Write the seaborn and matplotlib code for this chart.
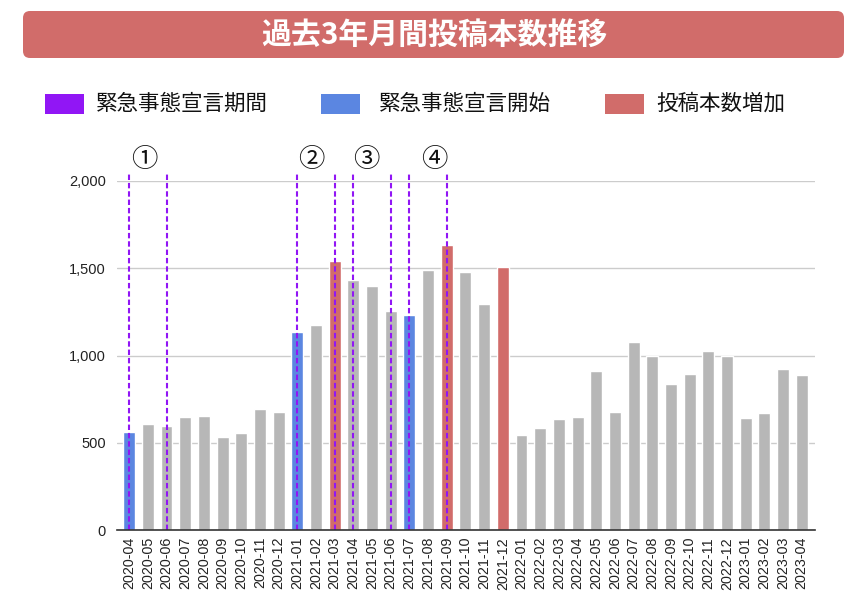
import numpy as np
import pandas as pd
import matplotlib.pyplot as plt
import seaborn as sns
from matplotlib.patches import FancyBboxPatch, Rectangle

# data
months = ['2020-04', '2020-05', '2020-06', '2020-07', '2020-08', '2020-09', '2020-10',
          '2020-11', '2020-12', '2021-01', '2021-02', '2021-03', '2021-04', '2021-05',
          '2021-06', '2021-07', '2021-08', '2021-09', '2021-10', '2021-11', '2021-12',
          '2022-01', '2022-02', '2022-03', '2022-04', '2022-05', '2022-06', '2022-07',
          '2022-08', '2022-09', '2022-10', '2022-11', '2022-12', '2023-01', '2023-02',
          '2023-03', '2023-04']
posts = [562, 606, 598, 650, 655, 533, 554, 692, 678, 1137, 1173, 1540, 1433, 1398,
         1253, 1230, 1492, 1635, 1477, 1297, 1505, 542, 585, 634, 650, 909, 678, 1075,
         995, 835, 892, 1024, 995, 640, 669, 921, 886]
start_months = ['2020-04', '2021-01', '2021-07']
increase_months = ['2021-03', '2021-09', '2021-12']
emergency_edges = ['2020-04', '2020-06', '2021-01', '2021-03',
                   '2021-04', '2021-06', '2021-07', '2021-09']
period_marks = ['①', '②', '③', '④']
mark_x = [0.8, 9.75, 12.7, 16.35]
legend_labels = ['緊急事態宣言期間', '緊急事態宣言開始', '投稿本数増加']
title = '過去3年月間投稿本数推移'

purple = '#9116f5'
blue = '#5b86e1'
red = '#d16c6a'
gray = '#b7b7b7'

kind = ['start' if m in start_months else 'up' if m in increase_months else 'normal'
        for m in months]
df = pd.DataFrame({'month': months, 'posts': posts, 'kind': kind})

sns.set_style('white')
plt.rcParams['font.family'] = ['Liberation Sans', 'Noto Sans CJK JP', 'DejaVu Sans']
jp = ['Noto Sans CJK JP', 'DejaVu Sans']

fig = plt.figure(figsize=(8.68, 6.12), dpi=100)
ax = fig.add_axes([117 / 868, 82 / 612, 698 / 868, 349 / 612])

sns.barplot(data=df, x='month', y='posts', hue='kind',
            hue_order=['normal', 'start', 'up'],
            palette={'normal': gray, 'start': blue, 'up': red},
            dodge=False, width=0.64, saturation=1, legend=False, ax=ax)

for m in emergency_edges:
    i = months.index(m)
    ax.plot([i, i], [0, 2052], color=purple, lw=1.5, ls=(0, (2.6, 1.4)),
            clip_on=False, zorder=5)

for s, x in zip(period_marks, mark_x):
    ax.text(x, 2125, s, ha='center', va='center', fontsize=19, family=jp,
            color='#111111')

ax.set_ylim(0, 2000)
ax.set_xlim(-0.65, len(months) - 1 + 0.71)
ax.set_yticks([0, 500, 1000, 1500, 2000])
ax.set_yticklabels(['0', '500', '1,000', '1,500', '2,000'])
ax.grid(axis='y', color='#cccccc', lw=1)
ax.set_axisbelow(True)
for side in ['top', 'right', 'left']:
    ax.spines[side].set_visible(False)
ax.spines['bottom'].set_color('#333333')
ax.spines['bottom'].set_linewidth(1.2)
ax.spines['bottom'].set_zorder(6)
ax.tick_params(axis='y', length=0, labelsize=10.5, colors='#222222', pad=8)
ax.tick_params(axis='x', length=0, labelsize=10.3, colors='#222222', pad=5,
               labelrotation=90)
ax.set_xlabel('')
ax.set_ylabel('')

# title banner and legend, drawn in pixel units on a background axes
bg = fig.add_axes([0, 0, 1, 1], zorder=-1)
bg.set_xlim(0, 868)
bg.set_ylim(612, 0)
bg.axis('off')
bg.add_patch(FancyBboxPatch((23, 11), 821, 47, boxstyle='round,pad=0,rounding_size=7',
                            fc=red, ec='none'))
bg.text(434, 35, title, ha='center', va='center', fontsize=21.5,
        fontweight='bold', color='white', family=jp)

for label, c, sx, tx in zip(legend_labels, [purple, blue, red],
                            [45, 321, 605], [96, 379, 656]):
    bg.add_patch(Rectangle((sx, 94), 39, 20, fc=c, ec='none'))
    bg.text(tx, 104, label, ha='left', va='center', fontsize=15.5, family=jp,
            color='#111111')

fig.savefig('out.png', dpi=100)
